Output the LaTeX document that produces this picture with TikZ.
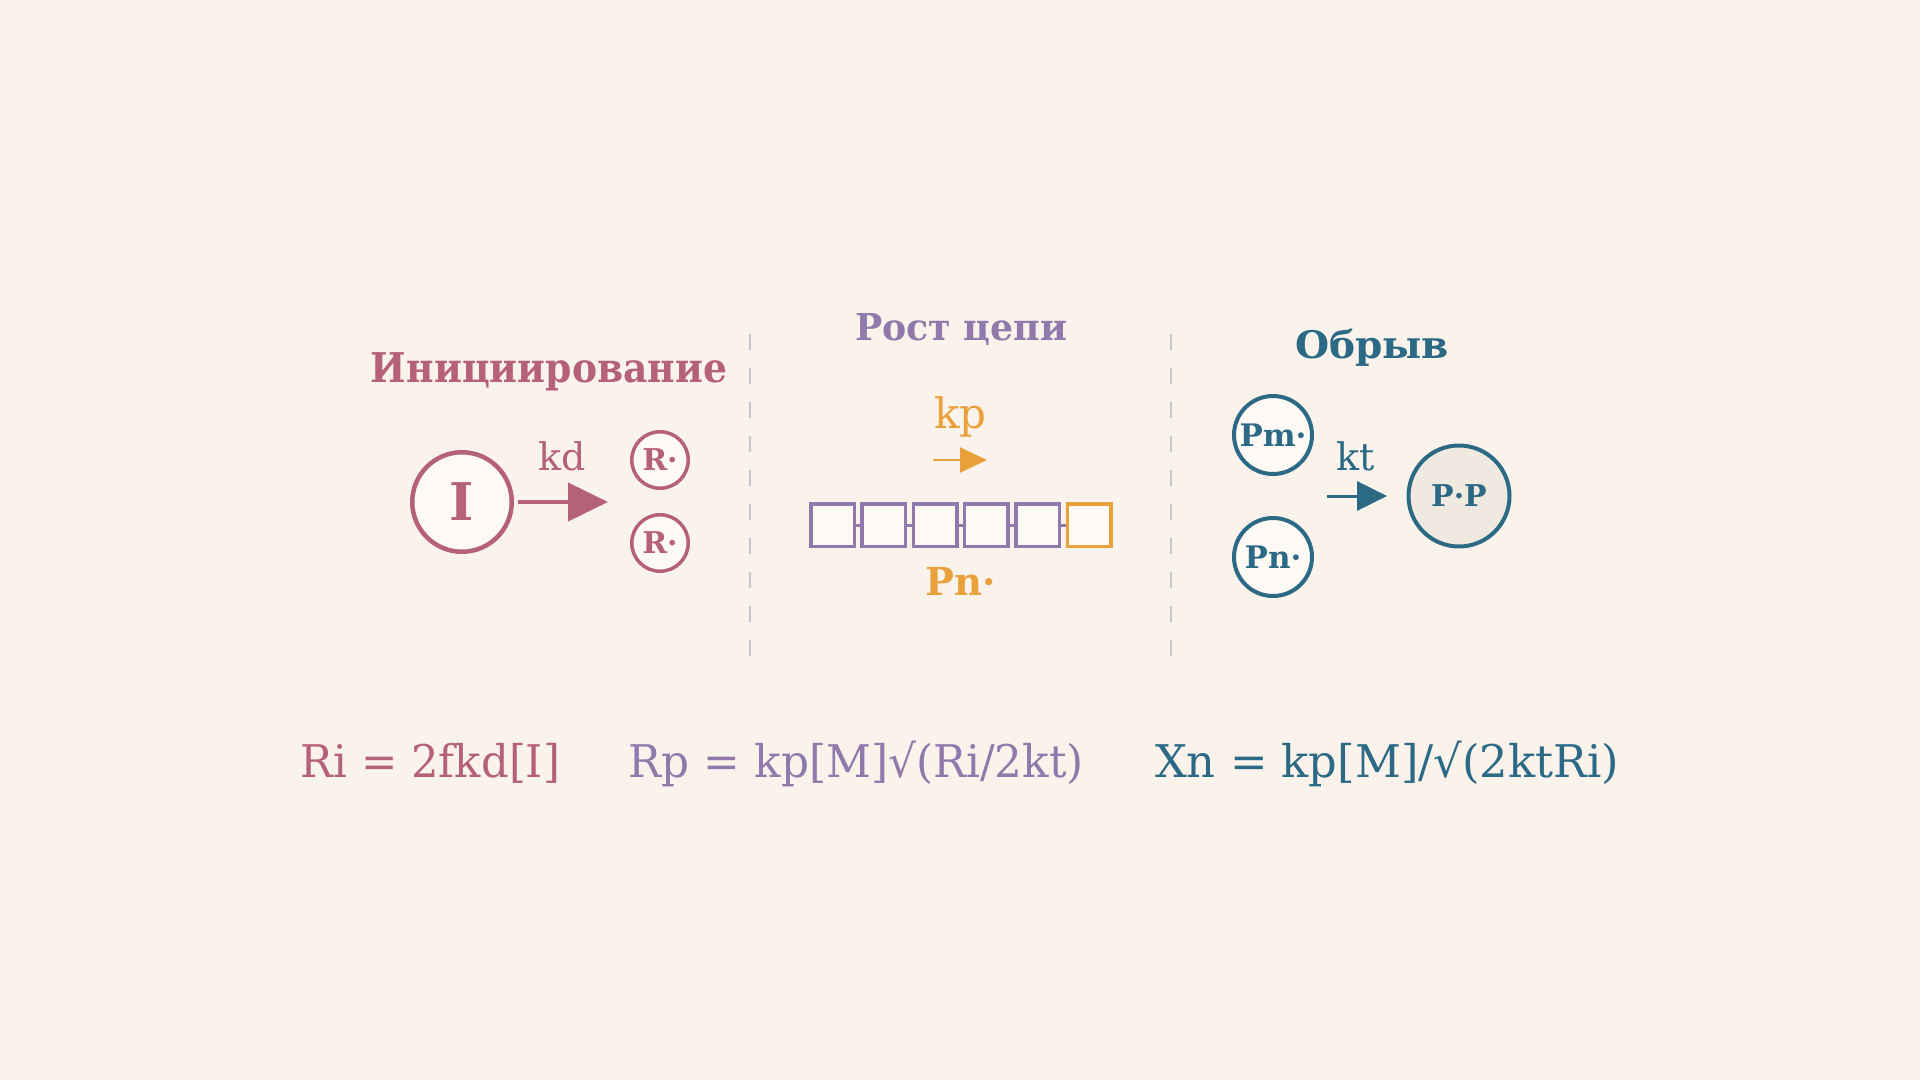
\documentclass[tikz,border=0pt]{standalone}
\usepackage{fontspec}
\setmainfont{DejaVu Serif}
\usepackage{graphicx}
\usetikzlibrary{arrows.meta}
\definecolor{bg}{HTML}{FAF3EC}
\definecolor{rose}{HTML}{B5617A}
\definecolor{lav}{HTML}{9179AB}
\definecolor{amber}{HTML}{E9A13B}
\definecolor{tealc}{HTML}{2C6985}
\definecolor{nfill}{HTML}{FDF9F5}
\definecolor{pfill}{HTML}{F0E9E0}
\definecolor{sepc}{HTML}{C9C6CD}
\newcommand{\fw}[2]{\resizebox{#1pt}{\height}{#2}}
\newcommand{\fs}[1]{\fontsize{#1}{#1}\selectfont}
\tikzset{
  txt/.style={inner sep=0pt, outer sep=0pt, anchor=base},
  ttl/.style={txt, font=\bfseries\fs{40}},
  frm/.style={txt, font=\fs{45}},
  rate/.style={txt, font=\fs{38}},
  ring/.style={circle, inner sep=0pt, fill=nfill, font=\bfseries\fs{31}},
  chainbox/.style={draw=lav, line width=3.5pt, fill=nfill, minimum width=43.5pt, minimum height=42.5pt, inner sep=0pt},
  sepline/.style={draw=sepc, line width=2pt, dash pattern=on 16pt off 18pt},
}
\begin{document}
\begin{tikzpicture}[x=1pt,y=-1pt]
\useasboundingbox (0,0) rectangle (1920,1080);
\fill[bg] (0,0) rectangle (1920,1080);

% separators
\coordinate (s1a) at (750,334); \coordinate (s1b) at (750,660);
\coordinate (s2a) at (1171,334); \coordinate (s2b) at (1171,660);
\draw[sepline] (s1a) -- (s1b);
\draw[sepline] (s2a) -- (s2b);

% titles
\node[ttl, text=rose, font=\bfseries\fs{41}] (t1) at (549,382) {\fw{356}{Инициирование}};
\node[ttl, text=lav, font=\bfseries\fs{37}] (t2) at (961,340) {\fw{212}{Рост цепи}};
\node[ttl, text=tealc, font=\bfseries\fs{38}] (t3) at (1372,358) {\fw{154}{Обрыв}};

% initiation
\node[ring, draw=rose, line width=4.5pt, minimum size=99.5pt, font=\bfseries\fs{52}, text=rose] (I) at (462,502) {I};
\node[ring, draw=rose, line width=3.5pt, minimum size=56.5pt, font=\bfseries\fs{30}, text=rose] (R1) at (660,460) {R·};
\node[ring, draw=rose, line width=3.5pt, minimum size=56.5pt, font=\bfseries\fs{30}, text=rose] (R2) at (660,543) {R·};
\coordinate (kdend) at (608,502);
\draw[rose, line width=4pt, -{Triangle[length=40pt,width=38pt]}] (I.east) ++(4,0) -- (kdend);
\node[rate, text=rose] (kd) at (562.5,470) {kd};

% propagation
\node[rate, text=amber, font=\fs{42}] (kp) at (960.5,428) {kp};
\coordinate (kpa) at (933,460); \coordinate (kpb) at (987,460);
\draw[amber, line width=2pt, -{Triangle[length=27pt,width=25pt]}] (kpa) -- (kpb);
\foreach \i/\x in {1/832.5,2/883.8,3/935.1,4/986.4,5/1037.7}{
  \node[chainbox] (b\i) at (\x,525) {};
}
\node[chainbox, draw=amber] (b6) at (1089,525) {};
\foreach \a/\b in {1/2,2/3,3/4,4/5,5/6}{
  \draw[lav, line width=3pt] (b\a.east) -- (b\b.west);
}
\node[txt, text=amber, font=\bfseries\fs{38.5}] (pn) at (961,595) {Pn·};

% termination
\node[ring, draw=tealc, line width=4pt, minimum size=78pt, text=tealc] (Pm) at (1273,435) {Pm·};
\node[ring, draw=tealc, line width=4pt, minimum size=78pt, text=tealc] (Pn) at (1273,557) {Pn·};
\node[ring, draw=tealc, line width=4pt, minimum size=101pt, fill=pfill, text=tealc, font=\bfseries\fs{30}] (PP) at (1459,496) {P·P};
\coordinate (kta) at (1327,496); \coordinate (ktb) at (1387,496);
\draw[tealc, line width=3pt, -{Triangle[length=30pt,width=29pt]}] (kta) -- (ktb);
\node[rate, text=tealc] (kt) at (1356,470) {kt};

% formulas
\node[frm, text=rose] (f1) at (430.5,777) {\fw{259}{Ri = 2fkd[I]}};
\node[frm, text=lav] (f2) at (856.5,777) {\fw{455}{Rp = kp[M]√(Ri/2kt)}};
\node[frm, text=tealc] (f3) at (1387,777) {\fw{464}{Xn = kp[M]/√(2ktRi)}};
\end{tikzpicture}
\end{document}
